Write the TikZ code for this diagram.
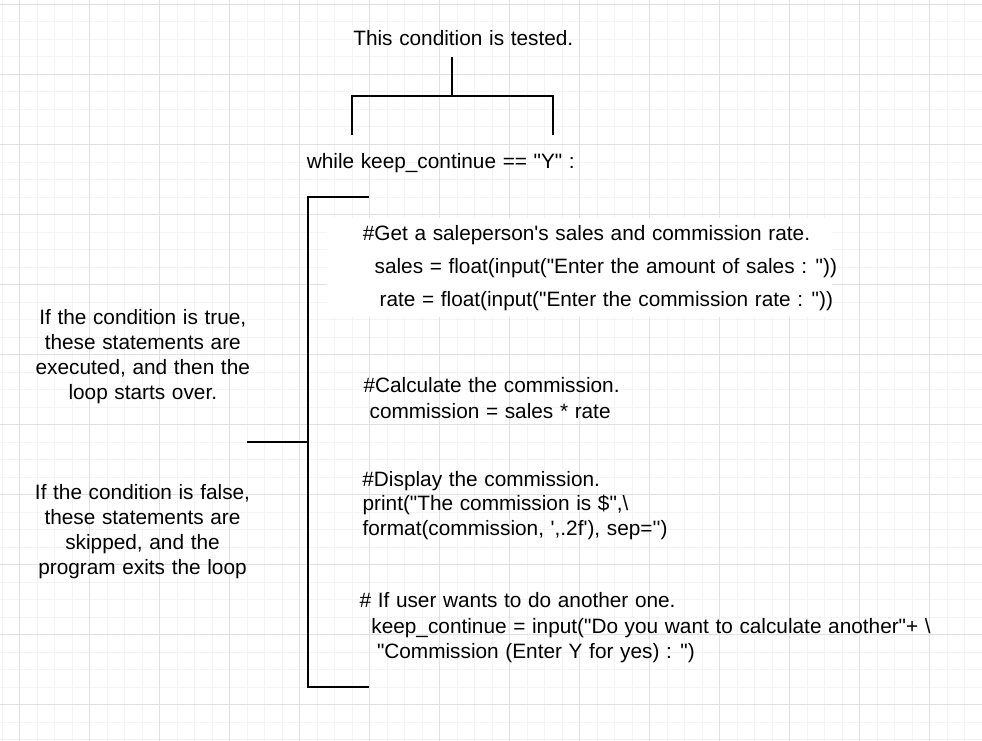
\documentclass[tikz,border=0pt]{standalone}
\usepackage{fontspec}
\setmainfont{Liberation Sans}[Ligatures=TeXOff,WordSpace=1.15]
\usepackage{tikz}
\usepackage{xcolor}
\usetikzlibrary{calc}
\definecolor{gridmajor}{HTML}{E0E0E0}
\definecolor{gridminor}{HTML}{F4F4F4}
\tikzset{
 lbl/.style={inner sep=0pt, font=\fontsize{20.8}{25}\selectfont},
 brk/.style={line width=2pt, black},
}

\begin{document}
\begin{tikzpicture}[x=1pt,y=-1pt]
\useasboundingbox (0,0) rectangle (982,741);
\fill[white] (0,0) rectangle (982,741);
\foreach \i in {0,...,56}{
 \draw[gridminor,line width=1pt] ({2+17.5*\i},0)--++(0,741);
 }
\foreach \i in {0,...,42}{
 \draw[gridminor,line width=1pt] (0,{4.5+17.5*\i})--++(982,0);
 }
\foreach \i in {0,...,13}{
 \draw[gridmajor,line width=1pt] ({19.5+70*\i},0)--++(0,741);
 }
\foreach \i in {0,...,10}{
 \draw[gridmajor,line width=1pt] (0,{4.5+70*\i})--++(982,0);
 }
\fill[white] (327,218) rectangle (832,317);

\node[lbl,anchor=base] (tested) at (463.3,46) {This condition is tested.};
\node[lbl,anchor=base west] (whileln) at (306.6,168.3) {while keep\_continue == "Y" :};

\coordinate (stemtop) at (452.3,57);
\coordinate (stembot) at (452.3,96);
\coordinate (legl) at (351.7,135);
\coordinate (legr) at (553.3,135);
\draw[brk] (stemtop) -- (stembot);
\draw[brk] (legl) |- (stembot) -| (legr);

\coordinate (looptop) at (369,196.5);
\coordinate (loopmid) at (307.5,441.5);
\coordinate (loopbot) at (368.5,686.5);
\coordinate (loopstub) at (247,441.5);
\draw[brk] (looptop) -| (loopmid) |- (loopbot);
\draw[brk] (loopstub) -- (loopmid);

\node[lbl,align=center] (truenote) at (142.8,357.1) {If the condition is true,\\these statements are\\executed, and then the\\loop starts over.};
\node[lbl,align=center] (falsenote) at (142.5,531.6) {If the condition is false,\\these statements are\\skipped, and the\\program exits the loop};

\foreach \nm/\x/\y/\txt in {get/362.6/240.7/{\#Get a saleperson's sales and commission rate.},
 sales/374.4/273.3/{sales = float(input("Enter the amount of sales : "))},
 rate/379.4/306/{rate = float(input("Enter the commission rate : "))},
 calc/363.3/392.3/{\#Calculate the commission.},
 comm/369.4/418.3/{commission = sales * rate},
 disp/362.2/486.7/{\#Display the commission.},
 prnt/362.4/510/{print("The commission is \$",\textbackslash},
 fmt/362.4/535/{format(commission, ',.2f'), sep='')},
 again/359.4/607.3/{\# If user wants to do another one.},
 keep/371.2/633.3/{keep\_continue = input("Do you want to calculate another"+ \textbackslash},
 ask/376.8/658.3/{"Commission (Enter Y for yes) : ")}}{
 \node[lbl,anchor=base west] (\nm) at (\x,\y) {\txt};
 }
\end{tikzpicture}
\end{document}
